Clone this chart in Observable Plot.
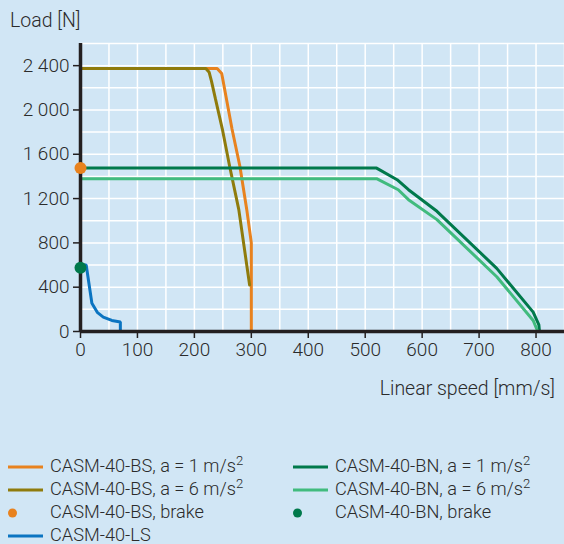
<!DOCTYPE html>
<html><head><meta charset="utf-8">
<script src="https://cdn.jsdelivr.net/npm/d3@7"></script>
<script src="https://cdn.jsdelivr.net/npm/@observablehq/plot@0.6"></script>
<style>
body{margin:0;background:#d1e6f5;font-family:Roboto, "Noto Sans", sans-serif;color:#2b2b2b;}
#wrap{position:relative;width:564px;height:544px;overflow:hidden;}
#chart{position:absolute;left:0;top:0;}
.lab{position:absolute;font-size:19.5px;font-weight:300;white-space:nowrap;}
.leg{position:absolute;font-size:18.2px;font-weight:300;white-space:nowrap;line-height:22px;}
.leg sup{font-size:0.72em;line-height:0;vertical-align:0.5em;}
.sw{position:absolute;}
</style></head>
<body>
<div id="wrap"><div id="chart"></div></div>
<script>
// ---- data ----
const bs1Speed = [0, 240, 248, 266, 280, 292, 300, 300];
const bs1Load  = [2375, 2375, 2330, 1830, 1490, 1100, 800, 0];
const bs6Speed = [0, 220, 226, 230, 237, 249, 262, 278, 297];
const bs6Load  = [2375, 2375, 2340, 2260, 2100, 1830, 1490, 1100, 420];
const bn1Speed = [0, 520, 556, 576, 626, 731, 795, 805, 806];
const bn1Load  = [1475, 1475, 1370, 1280, 1085, 570, 175, 60, 0];
const bn6Speed = [0, 520, 558, 576, 626, 731, 795, 803];
const bn6Load  = [1380, 1380, 1280, 1190, 1010, 494, 100, 0];
const lsSpeed  = [5, 10, 20, 30, 40, 55, 70, 70];
const lsLoad   = [600, 600, 255, 170, 130, 100, 85, 0];
const brakeNames = ["CASM-40-BS, brake", "CASM-40-BN, brake"];
const brakeSpeed = [0, 0];
const brakeLoad  = [1475, 575];
const xTicks = [0, 100, 200, 300, 400, 500, 600, 700, 800];
const yTicks = [0, 400, 800, 1200, 1600, 2000, 2400];
const xGrid = d3.range(0, 851, 50);
const yGrid = d3.range(0, 2601, 200);
const seriesNames = ["CASM-40-BS, a = 1 m/s²", "CASM-40-BS, a = 6 m/s²", "CASM-40-BN, a = 1 m/s²", "CASM-40-BN, a = 6 m/s²", "CASM-40-LS"];
const colors = {"CASM-40-BS, a = 1 m/s²":"#e8821e","CASM-40-BS, a = 6 m/s²":"#8f7b0c","CASM-40-BN, a = 1 m/s²":"#00794b","CASM-40-BN, a = 6 m/s²":"#41bb7e","CASM-40-LS":"#0b74c1","CASM-40-BS, brake":"#e8821e","CASM-40-BN, brake":"#00794b"};

const series = [[bs1Speed,bs1Load],[bs6Speed,bs6Load],[bn1Speed,bn1Load],[bn6Speed,bn6Load],[lsSpeed,lsLoad]];
const lineData = series.flatMap(([xs,ys],i)=>xs.map((x,j)=>({name:seriesNames[i],speed:x,load:ys[j]})));
const dots = brakeNames.map((n,i)=>({name:n,speed:brakeSpeed[i],load:brakeLoad[i]}));
const fmt = n => n>=1000 ? `${Math.floor(n/1000)} ${String(n%1000).padStart(3,"0")}` : String(n);

const chart = Plot.plot({
  width:564, height:400,
  marginLeft:80, marginRight:0, marginTop:43, marginBottom:69,
  style:{background:"transparent", fontFamily:"Roboto, sans-serif", fontWeight:300, color:"#2b2b2b", overflow:"visible"},
  x:{domain:[0,850]},
  y:{domain:[0,2600]},
  color:{domain:Object.keys(colors), range:Object.values(colors)},
  marks:[
    Plot.ruleX(xGrid,{stroke:"white",strokeWidth:1.5}),
    Plot.ruleY(yGrid,{stroke:"white",strokeWidth:1.5}),
    Plot.axisX({ticks:xTicks, tickSize:7, tickPadding:4, fontSize:19, label:null, tickFormat:d=>String(d), stroke:"#231f20", strokeWidth:1.5}),
    Plot.axisY({ticks:yTicks, tickSize:7, tickPadding:4, fontSize:19, label:null, tickFormat:fmt, stroke:"#231f20", strokeWidth:1.5}),
    Plot.line(lineData,{x:"speed",y:"load",z:"name",stroke:"name",strokeWidth:3,strokeLinejoin:"miter"}),
    Plot.ruleX([0],{y1:0,y2:2600,stroke:"#231f20",strokeWidth:3.5}),
    Plot.ruleY([0],{x1:0,x2:850,stroke:"#231f20",strokeWidth:3.5}),
    Plot.dot(dots,{x:"speed",y:"load",fill:"name",r:6})
  ]
});
document.getElementById("chart").appendChild(chart);

const wrap = document.getElementById("wrap");
function addLab(text, css){const d=document.createElement("div");d.className="lab";d.textContent=text;Object.assign(d.style,css);wrap.appendChild(d);}
addLab("Load [N]",{left:"10px",top:"9px"});
addLab("Linear speed [mm/s]",{right:"9px",top:"377px"});

// legend
const legendItems = [
  {name:seriesNames[0],type:"line",col:0,row:0},
  {name:seriesNames[1],type:"line",col:0,row:1},
  {name:brakeNames[0],type:"dot",col:0,row:2},
  {name:seriesNames[4],type:"line",col:0,row:3},
  {name:seriesNames[2],type:"line",col:1,row:0},
  {name:seriesNames[3],type:"line",col:1,row:1},
  {name:brakeNames[1],type:"dot",col:1,row:2}
];
const colX=[8,293], rowY=[467,490,513,536];
for(const it of legendItems){
  const x=colX[it.col], y=rowY[it.row], c=colors[it.name];
  const s=document.createElementNS("http://www.w3.org/2000/svg","svg");
  s.setAttribute("width",36);s.setAttribute("height",14);s.setAttribute("class","sw");
  s.style.left=x+"px";s.style.top=(y-7)+"px";
  s.innerHTML = it.type==="line" ? `<line x1="0" x2="35" y1="7" y2="7" stroke="${c}" stroke-width="3"/>` : `<circle cx="4.5" cy="7" r="4.5" fill="${c}"/>`;
  wrap.appendChild(s);
  const t=document.createElement("div");t.className="leg";
  const m = it.name.match(/^(.*m\/s)²$/);
  if(m){t.textContent=m[1];const sp=document.createElement("sup");sp.textContent="2";t.appendChild(sp);}
  else t.textContent=it.name;
  t.style.left=(x+42)+"px";t.style.top=(y-12)+"px";
  wrap.appendChild(t);
}
</script>
</body></html>
